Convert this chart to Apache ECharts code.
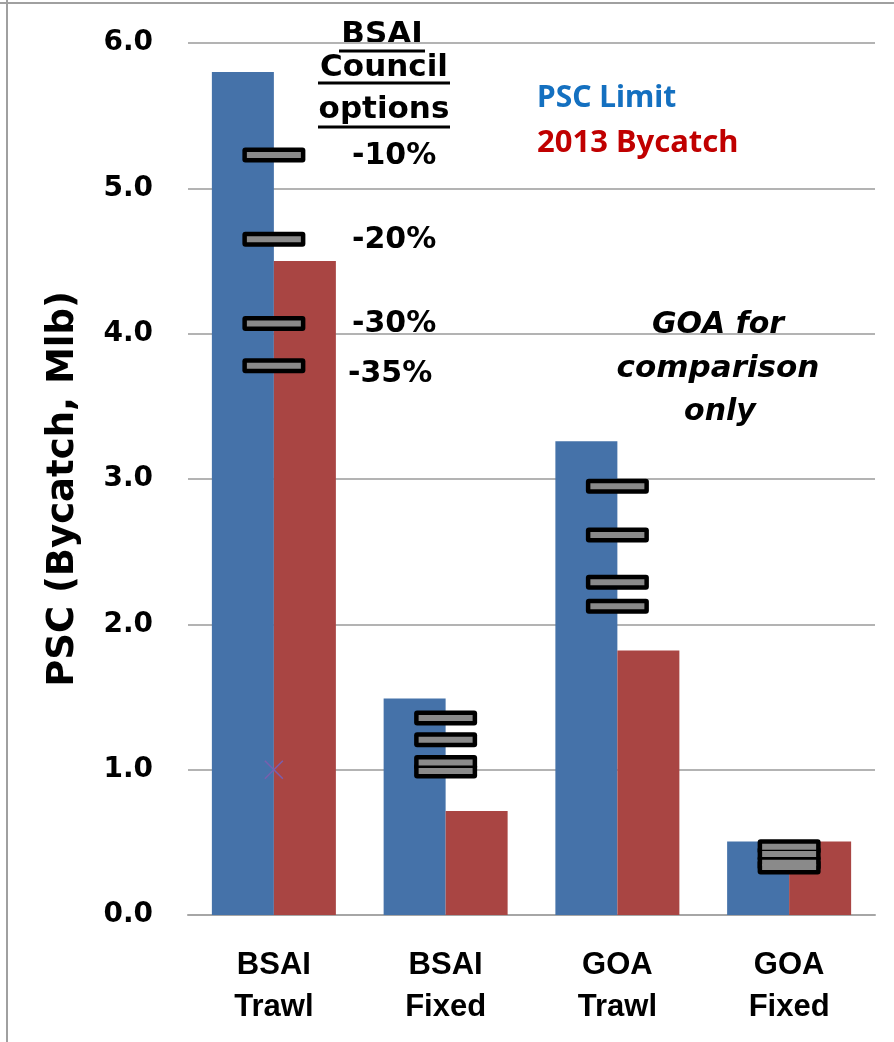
<!DOCTYPE html>
<html>
<head>
<meta charset="utf-8">
<script src="https://cdn.jsdelivr.net/npm/echarts@6/dist/echarts.min.js"></script>
<style>
html,body{margin:0;padding:0;background:#fff;}
#chart{width:894px;height:1042px;}
</style>
</head>
<body>
<div id="chart"></div>
<script>
const categories = ['BSAI\nTrawl', 'BSAI\nFixed', 'GOA\nTrawl', 'GOA\nFixed'];
const yTicks = ['0.0', '1.0', '2.0', '3.0', '4.0', '5.0', '6.0'];
const pscLimit = [5.80, 1.49, 3.26, 0.505];
const bycatch2013 = [4.50, 0.715, 1.82, 0.505];
const optMinus10 = [5.23, 1.355, 2.95, 0.47];
const optMinus20 = [4.65, 1.205, 2.615, 0.42];
const optMinus30 = [4.07, 1.05, 2.29, 0.36];
const optMinus35 = [3.78, 0.99, 2.125, 0.33];
const crossMark = [[0, 1.0]];

const optionPoints = [];
categories.forEach(function (c, i) {
  [optMinus10, optMinus20, optMinus30, optMinus35].forEach(function (arr) {
    optionPoints.push([i, arr[i]]);
  });
});

const heavy = 'DejaVu Sans';
const outerBox = 'path://M3,0H60Q63,0,63,3V12Q63,15,60,15H3Q0,15,0,12V3Q0,0,3,0Z';
const chart = echarts.init(document.getElementById('chart'));
chart.setOption({
  animation: false,
  backgroundColor: '#fff',
  grid: { left: 188, right: 19, top: 43, bottom: 127, containLabel: false },
  xAxis: {
    type: 'category',
    data: categories,
    axisLine: { show: true, lineStyle: { color: '#a6a6a6', width: 2 } },
    axisTick: { show: false },
    axisLabel: {
      margin: 29,
      fontFamily: 'Liberation Sans Narrow, Liberation Sans, Arial',
      fontWeight: 'bold',
      fontSize: 31,
      lineHeight: 42,
      color: '#000'
    }
  },
  yAxis: {
    type: 'value',
    min: 0, max: 6, interval: 1,
    name: 'PSC (Bycatch, Mlb)',
    nameLocation: 'middle',
    nameGap: 106,
    nameRotate: 90,
    nameTextStyle: { fontFamily: heavy, fontWeight: 'bold', fontSize: 37, color: '#000', padding: [0, 20, 0, 0] },
    axisLine: { show: false },
    axisTick: { show: false },
    splitLine: { lineStyle: { color: '#b3b3b3', width: 2 } },
    axisLabel: {
      margin: 35,
      fontFamily: heavy, fontWeight: 'bold', fontSize: 28, color: '#000',
      formatter: function (v) { return yTicks[Math.round(v)]; }
    }
  },
  series: [
    {
      name: 'PSC Limit', type: 'bar', data: pscLimit, barWidth: 62, barGap: '0%',
      itemStyle: { color: '#4572a9' }
    },
    {
      name: '2013 Bycatch', type: 'bar', data: bycatch2013, barWidth: 62, barGap: '0%',
      itemStyle: { color: '#a94543' }
    },
    {
      name: 'Council options frame', type: 'scatter', data: optionPoints,
      symbol: outerBox, symbolSize: [63, 15],
      itemStyle: { color: '#000', opacity: 1 },
      z: 5
    },
    {
      name: 'Council options', type: 'scatter', data: optionPoints,
      symbol: 'rect', symbolSize: [54, 6],
      itemStyle: { color: '#8a8a8a', opacity: 1 },
      z: 6
    },
    {
      name: 'mark', type: 'scatter', data: crossMark,
      symbol: 'path://M0,0L10,10M10,0L0,10', symbolSize: 18,
      itemStyle: { color: 'none', borderColor: '#7a5fae', borderWidth: 1.5, opacity: 1 },
      z: 7
    }
  ],
  graphic: [
    { type: 'line', shape: { x1: 0, y1: 3, x2: 894, y2: 3 }, style: { stroke: '#a0a0a0', lineWidth: 2 } },
    { type: 'line', shape: { x1: 7, y1: 0, x2: 7, y2: 1042 }, style: { stroke: '#a0a0a0', lineWidth: 2 } },
    { type: 'text', style: { x: 382, y: 35, text: 'BSAI', textAlign: 'center', textVerticalAlign: 'middle', font: 'bold 31px "DejaVu Sans"', fill: '#000' } },
    { type: 'line', shape: { x1: 339, y1: 51, x2: 425, y2: 51 }, style: { stroke: '#000', lineWidth: 3 } },
    { type: 'text', style: { x: 384, y: 68, text: 'Council', textAlign: 'center', textVerticalAlign: 'middle', font: 'bold 31px "DejaVu Sans"', fill: '#000' } },
    { type: 'line', shape: { x1: 318, y1: 83, x2: 450, y2: 83 }, style: { stroke: '#000', lineWidth: 3 } },
    { type: 'text', style: { x: 384, y: 110, text: 'options', textAlign: 'center', textVerticalAlign: 'middle', font: 'bold 31px "DejaVu Sans"', fill: '#000' } },
    { type: 'line', shape: { x1: 318, y1: 127, x2: 450, y2: 127 }, style: { stroke: '#000', lineWidth: 3 } },
    { type: 'text', style: { x: 352, y: 156, text: '-10%', textAlign: 'left', textVerticalAlign: 'middle', font: 'bold 30px "DejaVu Sans"', fill: '#000' } },
    { type: 'text', style: { x: 352, y: 240, text: '-20%', textAlign: 'left', textVerticalAlign: 'middle', font: 'bold 30px "DejaVu Sans"', fill: '#000' } },
    { type: 'text', style: { x: 352, y: 324, text: '-30%', textAlign: 'left', textVerticalAlign: 'middle', font: 'bold 30px "DejaVu Sans"', fill: '#000' } },
    { type: 'text', style: { x: 348, y: 374, text: '-35%', textAlign: 'left', textVerticalAlign: 'middle', font: 'bold 30px "DejaVu Sans"', fill: '#000' } },
    { type: 'text', style: { x: 537, y: 98, text: 'PSC Limit', textAlign: 'left', textVerticalAlign: 'middle', font: 'bold 30px "Noto Sans"', fill: '#1470c0' } },
    { type: 'text', style: { x: 537, y: 143, text: '2013 Bycatch', textAlign: 'left', textVerticalAlign: 'middle', font: 'bold 31px "Noto Sans"', fill: '#c00000' } },
    { type: 'text', style: { x: 718, y: 325, text: 'GOA for', textAlign: 'center', textVerticalAlign: 'middle', font: 'italic bold 30px "DejaVu Sans"', fill: '#000' } },
    { type: 'text', style: { x: 718, y: 369, text: 'comparison', textAlign: 'center', textVerticalAlign: 'middle', font: 'italic bold 31px "DejaVu Sans"', fill: '#000' } },
    { type: 'text', style: { x: 720, y: 412, text: 'only', textAlign: 'center', textVerticalAlign: 'middle', font: 'italic bold 30px "DejaVu Sans"', fill: '#000' } }
  ]
});
</script>
</body>
</html>
